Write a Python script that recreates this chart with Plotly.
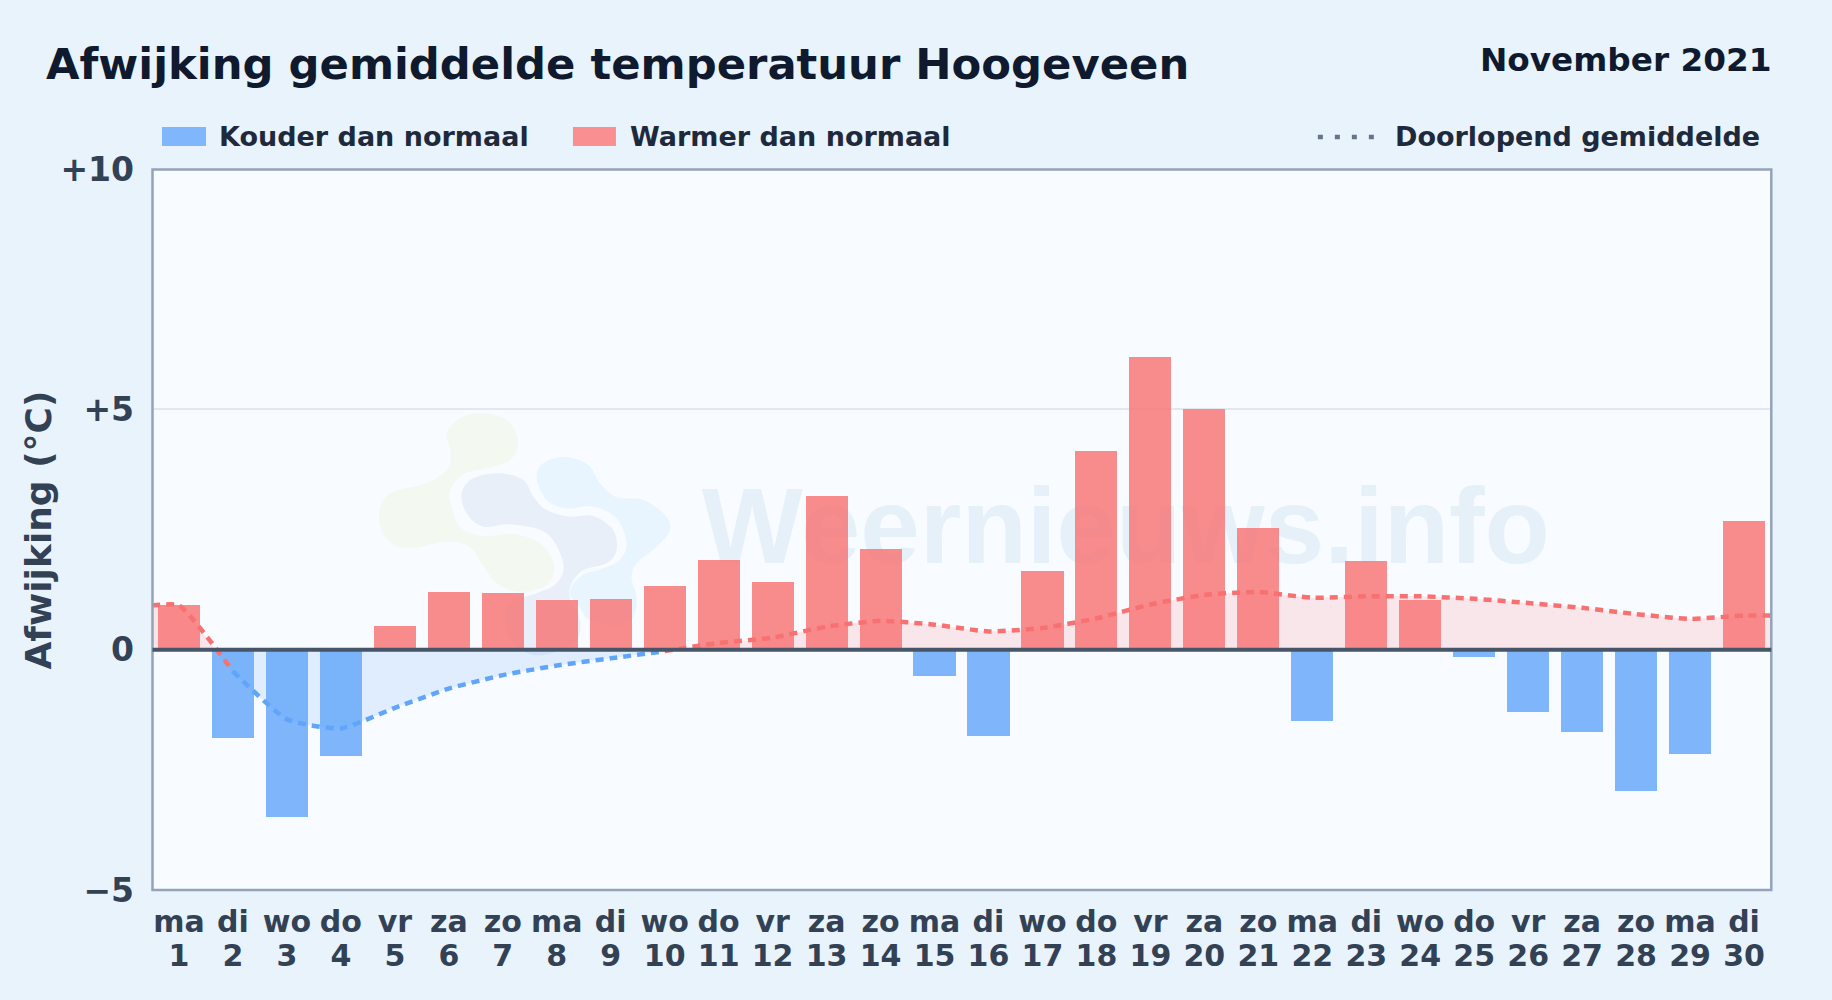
import plotly.graph_objects as go

W, H = 1832, 1000
L, R, T, B = 152.0, 1771.2, 169, 890
BL, BR, BT, BB = 152.5, 1771.5, 169.5, 890

FONT = "DejaVu Sans"
INK = "#0f1a2e"
TEXT = "#1e293b"
AXIS = "#334155"
BLUE = "rgba(96,165,250,0.8)"
RED = "rgba(248,113,113,0.8)"

days = list(range(1, 31))
weekdays = ["ma", "di", "wo", "do", "vr", "za", "zo", "ma", "di", "wo", "do", "vr", "za", "zo", "ma",
            "di", "wo", "do", "vr", "za", "zo", "ma", "di", "wo", "do", "vr", "za", "zo", "ma", "di"]
anomaly = [0.92, -1.84, -3.49, -2.21, 0.49, 1.19, 1.17, 1.04, 1.06, 1.33, 1.86, 1.41, 3.19, 2.10, -0.54,
           -1.80, 1.64, 4.14, 6.08, 5.00, 2.53, -1.48, 1.85, 1.03, -0.15, -1.29, -1.72, -2.94, -2.17, 2.68]
running = [0.92, -0.45, -1.45, -1.64, -1.21, -0.81, -0.53, -0.33, -0.18, -0.03, 0.14, 0.25, 0.48, 0.60, 0.52,
           0.38, 0.45, 0.65, 0.94, 1.14, 1.20, 1.08, 1.11, 1.11, 1.06, 0.97, 0.87, 0.74, 0.64, 0.71]
ytick_vals = [-5, 0, 5, 10]
ytick_text = ["\u22125", "0", "+5", "+10"]

# running mean, split where the colour changes
red_a_x, red_a_y = [0.5, 1, 2], [0.92, 0.92, -0.45]
blue_x, blue_y = [2, 3, 4, 5, 6, 7, 8, 9, 10], running[1:10]
red_b_x, red_b_y = [10] + days[10:] + [30.5], running[9:] + [0.71]

# fills between the running mean and zero
fill_red_a_x, fill_red_a_y = [0.5, 1, 1.67], [0.92, 0.92, 0]
fill_blue_x, fill_blue_y = [1.67, 2, 3, 4, 5, 6, 7, 8, 9, 10, 10.18], [0] + running[1:10] + [0]
fill_red_b_x, fill_red_b_y = [10.18] + days[10:] + [30.5], [0] + running[10:] + [0.71]

# watermark logo outlines, in screen pixels of a 3x crop with origin (350, 390)
logo_green = [(300, 330), (330, 410), (400, 438), (490, 432), (570, 460), (612, 525), (590, 585), (510, 605),
              (440, 580), (395, 520), (360, 470), (290, 455), (170, 475), (105, 440), (88, 370), (120, 310),
              (230, 280), (290, 240), (303, 190), (290, 130), (330, 85), (395, 70), (470, 90), (505, 155),
              (480, 210), (410, 235), (345, 250), (305, 290)]
logo_navy = [(335, 310), (370, 265), (450, 250), (520, 270), (550, 320), (590, 360), (660, 380), (730, 378),
             (790, 420), (800, 480), (770, 520), (700, 540), (665, 580), (660, 625), (690, 690), (680, 750),
             (620, 785), (550, 795), (490, 760), (465, 700), (480, 640), (560, 610), (620, 580), (640, 520),
             (590, 430), (480, 403), (400, 410), (350, 370)]
logo_sky = [(645, 200), (715, 225), (750, 280), (800, 322), (880, 330), (945, 375), (960, 420), (920, 470),
            (860, 520), (845, 565), (860, 620), (850, 680), (800, 710), (720, 690), (695, 660), (660, 610),
            (690, 560), (760, 535), (810, 510), (830, 460), (800, 385), (730, 350), (650, 355), (590, 330),
            (560, 265), (580, 220)]


def px(x):
    return (x - L) / (R - L)


def py(y):
    return (B - y) / (B - T)


def blob(points):
    pts = [(px(350 + x / 3), py(390 + y / 3)) for x, y in points]
    n = len(pts)
    d = f"M {pts[0][0]:.5f} {pts[0][1]:.5f}"
    for i in range(n):
        p0, p1, p2, p3 = pts[i - 1], pts[i], pts[(i + 1) % n], pts[(i + 2) % n]
        c1 = (p1[0] + (p2[0] - p0[0]) / 6, p1[1] + (p2[1] - p0[1]) / 6)
        c2 = (p2[0] - (p3[0] - p1[0]) / 6, p2[1] - (p3[1] - p1[1]) / 6)
        d += f" C {c1[0]:.5f} {c1[1]:.5f} {c2[0]:.5f} {c2[1]:.5f} {p2[0]:.5f} {p2[1]:.5f}"
    return d + " Z"


fig = go.Figure()

fig.add_trace(go.Bar(x=days, y=anomaly, width=0.78, hoverinfo="skip",
                     marker=dict(color=[RED if v >= 0 else BLUE for v in anomaly], line_width=0)))

for xs, ys, col in [(fill_red_a_x, fill_red_a_y, "rgba(248,113,113,0.15)"),
                    (fill_blue_x, fill_blue_y, "rgba(96,165,250,0.16)"),
                    (fill_red_b_x, fill_red_b_y, "rgba(248,113,113,0.15)")]:
    fig.add_trace(go.Scatter(x=xs, y=ys, mode="lines", fill="tozeroy", fillcolor=col, hoverinfo="skip",
                             line=dict(width=0, shape="spline", smoothing=0.5), xaxis="x2"))

for xs, ys, col in [(red_a_x, red_a_y, "#f87171"), (blue_x, blue_y, "#60a5fa"), (red_b_x, red_b_y, "#f87171")]:
    fig.add_trace(go.Scatter(x=xs, y=ys, mode="lines", hoverinfo="skip", xaxis="x2",
                             line=dict(color=col, width=4.5, dash="8px,6px", shape="spline", smoothing=0.5)))

shapes = [
    dict(type="path", xref="paper", yref="paper", layer="below", line_width=0, fillcolor="#f3f8f0", path=blob(logo_green)),
    dict(type="path", xref="paper", yref="paper", layer="below", line_width=0, fillcolor="#e8f5fe", path=blob(logo_sky)),
    dict(type="path", xref="paper", yref="paper", layer="below", line_width=0, fillcolor="#e8eff8", path=blob(logo_navy)),
    dict(type="rect", xref="paper", yref="paper", layer="below", line_width=0, fillcolor="rgba(0,0,0,0)",
         x0=px(692), x1=px(1560), y0=py(456), y1=py(576),
         label=dict(text="<b>Weernieuws.info</b>", textposition="middle center",
                    font=dict(family="Liberation Sans", size=107, color="#e6f0f9"))),
    # plot frame
    dict(type="rect", xref="paper", yref="paper", layer="above", fillcolor="rgba(0,0,0,0)",
         x0=px(BL), x1=px(BR), y0=py(BB), y1=py(BT), line=dict(color="#94a3b8", width=2.5)),
    # zero line
    dict(type="line", xref="paper", yref="y", layer="above", x0=px(BL), x1=px(BR), y0=0, y1=0,
         line=dict(color="#475569", width=4)),
    # legend swatches and dotted key
    dict(type="rect", xref="paper", yref="paper", line_width=0, fillcolor="#80b6fb",
         x0=px(162), x1=px(206), y0=py(146), y1=py(127)),
    dict(type="rect", xref="paper", yref="paper", line_width=0, fillcolor="#f98f90",
         x0=px(573), x1=px(616), y0=py(146), y1=py(127)),
    dict(type="line", xref="paper", yref="paper", x0=px(1318), x1=px(1377), y0=py(137), y1=py(137),
         line=dict(color="#64748b", width=4.5, dash="5px,12px")),
]


def note(text, x, y, size, color=TEXT, anchor="left", angle=0):
    return dict(text=text, xref="paper", yref="paper", x=px(x), y=py(y), xanchor=anchor, yanchor="middle",
                textangle=angle, showarrow=False, font=dict(family=FONT, size=size, color=color, weight="bold"))


annotations = [
    note("Afwijking gemiddelde temperatuur Hoogeveen", 43.5, 64, 43.3, INK),
    note("November 2021", 1773.5, 60, 32.7, INK, "right"),
    note("Kouder dan normaal", 217, 136, 27),
    note("Warmer dan normaal", 628, 136, 27),
    note("Doorlopend gemiddelde", 1393, 136, 27),
    note("Afwijking (\u00b0C)", 37.5, 530, 36, AXIS, "center", -90),
]

fig.update_layout(
    width=W, height=H, autosize=False, showlegend=False, bargap=0,
    margin=dict(l=L, r=W - R, t=T, b=H - B, pad=0),
    paper_bgcolor="#e8f3fc", plot_bgcolor="#f8fbff",
    shapes=shapes, annotations=annotations,
    font=dict(family=FONT, color=AXIS),
    xaxis=dict(range=[0.5, 30.5], tickmode="array", tickvals=days, ticktext=weekdays, ticks="",
               showgrid=False, zeroline=False, showline=False,
               tickangle=0, ticklabelstandoff=11,
               tickfont=dict(family=FONT, size=30, color=AXIS, weight="bold")),
    xaxis2=dict(range=[0.5, 30.5], overlaying="x", anchor="y", side="bottom", tickmode="array", tickvals=days,
                ticktext=[str(d) for d in days], ticks="", showgrid=False, zeroline=False, showline=False,
                tickangle=0, ticklabelstandoff=45,
                tickfont=dict(family=FONT, size=30, color=AXIS, weight="bold")),
    yaxis=dict(range=[-5, 10], tickmode="array", tickvals=ytick_vals, ticktext=ytick_text, ticks="",
               showgrid=True, gridcolor="#e2e8f0", gridwidth=2, zeroline=False, showline=False,
               ticklabelstandoff=17,
               tickfont=dict(family=FONT, size=33, color=AXIS, weight="bold")),
)

fig.write_html("out.html", post_script="document.body.style.margin='0';",
               config=dict(displayModeBar=False))
